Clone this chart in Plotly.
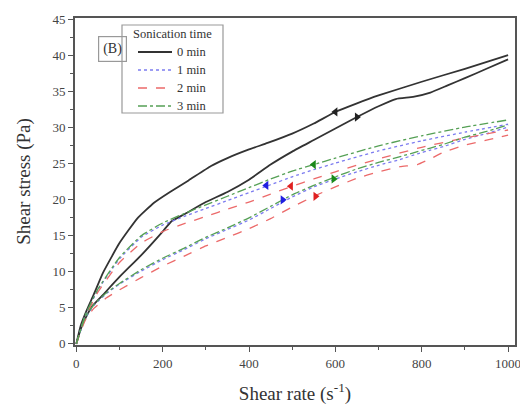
import plotly.graph_objects as go

# ---- data ----
x0_up = [0, 10, 20, 35, 60, 100, 150, 200, 220, 250, 300, 350, 400, 450, 500, 550, 600, 650, 700, 740, 780, 820, 860, 900, 950, 1000]
y0_up = [0, 2.0, 3.4, 5.1, 6.7, 9.3, 12.3, 15.6, 17.0, 18.0, 19.7, 21.1, 22.8, 24.9, 26.7, 28.3, 29.9, 31.5, 33.0, 34.0, 34.3, 34.9, 35.9, 36.9, 38.2, 39.5]
x0_dn = [0, 10, 25, 40, 62, 100, 141, 180, 217, 260, 312, 350, 400, 443, 500, 550, 600, 650, 700, 800, 900, 1000]
y0_dn = [0, 2.5, 4.8, 6.8, 9.9, 14.0, 17.4, 19.6, 21.1, 22.7, 24.7, 25.8, 27.0, 27.9, 29.2, 30.6, 32.2, 33.4, 34.5, 36.4, 38.2, 40.1]

xc = [0, 20, 40, 70, 100, 150, 200, 250, 300, 350, 400, 450, 500, 550, 600, 650, 700, 750, 790, 820, 850, 900, 950, 1000]
y1_up = [0, 3.5, 5.3, 7.0, 8.3, 10.1, 11.7, 13.1, 14.6, 15.9, 17.2, 18.8, 20.4, 21.8, 22.9, 23.9, 24.8, 25.6, 26.4, 26.9, 27.4, 28.4, 29.2, 30.1]
y2_up = [0, 3.2, 4.9, 6.4, 7.5, 9.2, 10.8, 12.2, 13.6, 14.8, 16.0, 17.4, 19.0, 20.5, 21.8, 23.0, 23.9, 24.6, 24.9, 25.7, 26.6, 27.6, 28.3, 29.0]
y3_up = [0, 3.6, 5.4, 7.1, 8.4, 10.3, 11.9, 13.3, 14.8, 16.1, 17.5, 19.1, 20.7, 22.0, 23.2, 24.3, 25.2, 26.0, 26.7, 27.2, 27.7, 28.7, 29.5, 30.4]

xd = [0, 20, 50, 100, 150, 200, 250, 300, 350, 400, 450, 500, 550, 600, 700, 800, 900, 1000]
y1_dn = [0, 3.8, 7.5, 11.8, 14.8, 16.5, 17.7, 18.8, 19.9, 21.0, 22.1, 23.2, 24.2, 25.1, 26.8, 28.2, 29.4, 30.5]
y2_dn = [0, 3.6, 7.2, 11.3, 14.0, 15.6, 16.7, 17.7, 18.7, 19.7, 20.8, 21.9, 22.9, 23.9, 25.7, 27.3, 28.6, 29.7]
y3_dn = [0, 3.9, 7.6, 12.0, 15.0, 16.8, 18.1, 19.3, 20.5, 21.7, 22.9, 24.0, 24.9, 25.8, 27.5, 28.9, 30.1, 31.1]

# arrow positions (x, y) and directions
arr_x = [600, 650, 440, 478, 497, 554, 550, 596]
arr_y = [32.2, 31.5, 22.0, 20.0, 21.9, 20.5, 24.9, 22.9]
arr_sym = ["triangle-left", "triangle-right", "triangle-left", "triangle-right",
           "triangle-left", "triangle-right", "triangle-left", "triangle-right"]
arr_col = ["#222222", "#222222", "#2020e0", "#2020e0", "#e02020", "#e02020", "#1a8a1a", "#1a8a1a"]

labels = ["0 min", "1 min", "2 min", "3 min"]
legend_title = "Sonication time"
colors = ["#333333", "#7c7cf0", "#ec6a6a", "#55a055"]
dashes = ["solid", "dot", "dash", "dashdot"]
widths = [1.8, 1.3, 1.3, 1.3]

FONT = "Liberation Serif, Times New Roman, serif"

# page has an 8px body margin; target plot area in page px
OFF = 8
L, R, T, B = 75, 515, 18, 345
W, H = R - L, B - T
def px(xp):
    return (xp - L) / W
def py(yp):
    return (B - yp) / H

fig = go.Figure()
series = [
    (x0_up, y0_up, x0_dn, y0_dn),
    (xc, y1_up, xd, y1_dn),
    (xc, y2_up, xd, y2_dn),
    (xc, y3_up, xd, y3_dn),
]
for i, (xu, yu, xdn, ydn) in enumerate(series):
    ln = dict(color=colors[i], dash=dashes[i], width=widths[i], shape="spline", smoothing=0.4)
    fig.add_trace(go.Scatter(x=xu, y=yu, mode="lines", line=ln, name=labels[i], showlegend=False))
    fig.add_trace(go.Scatter(x=xdn, y=ydn, mode="lines", line=ln, name=labels[i], showlegend=False))

fig.add_trace(go.Scatter(x=arr_x, y=arr_y, mode="markers",
                         marker=dict(symbol=arr_sym, color=arr_col, size=8, line=dict(width=0)),
                         showlegend=False, hoverinfo="skip"))

axis_common = dict(
    showline=True, linecolor="#555555", linewidth=2, mirror=True,
    ticks="outside", ticklen=5, tickwidth=1.2, tickcolor="#555555",
    showgrid=False, zeroline=False, automargin=False,
    tickfont=dict(family=FONT, size=13, color="#444444"),
)

shapes = []
annotations = []
# legend box
shapes.append(dict(type="rect", xref="paper", yref="paper",
                   x0=px(122), x1=px(223), y0=py(113), y1=py(25),
                   line=dict(color="#999999", width=1.2), fillcolor="white", layer="above"))
annotations.append(dict(xref="paper", yref="paper", x=px(172.5), y=py(34), text=legend_title,
                        showarrow=False, xanchor="center", yanchor="middle",
                        font=dict(family=FONT, size=12.5, color="#333333")))
for i, lab in enumerate(labels):
    yy = 52 + 18 * i
    shapes.append(dict(type="line", xref="paper", yref="paper",
                       x0=px(138), x1=px(172), y0=py(yy), y1=py(yy),
                       line=dict(color=colors[i], dash=dashes[i], width=widths[i]), layer="above"))
    annotations.append(dict(xref="paper", yref="paper", x=px(175), y=py(yy), text=lab,
                            showarrow=False, xanchor="left", yanchor="middle",
                            font=dict(family=FONT, size=12.5, color="#333333")))
# panel label
annotations.append(dict(xref="paper", yref="paper", x=px(98), y=py(36.5), text="(B)", showarrow=False,
                        font=dict(family=FONT, size=14, color="#333333"),
                        bordercolor="#999999", borderwidth=1.2, borderpad=4))

fig.update_layout(
    width=528 - OFF, height=413 - OFF,
    margin=dict(l=L - OFF, r=528 - R, t=T - OFF, b=413 - B),
    paper_bgcolor="white", plot_bgcolor="white",
    font=dict(family=FONT, color="#333333"),
    showlegend=False,
    xaxis=dict(range=[-3, 1016], dtick=200, tick0=0,
               minor=dict(dtick=100, ticks="outside", ticklen=3, tickcolor="#555555"),
               title=dict(text="Shear rate (s<sup>-1</sup>)", font=dict(family=FONT, size=19, color="#333333"), standoff=17),
               **axis_common),
    yaxis=dict(range=[-0.15, 45.25], dtick=5, tick0=0,
               minor=dict(dtick=2.5, ticks="outside", ticklen=3, tickcolor="#555555"),
               title=dict(text="Shear stress (Pa)", font=dict(family=FONT, size=19, color="#333333"), standoff=17),
               **axis_common),
    shapes=shapes,
    annotations=annotations,
)

fig.write_html("out.html")
